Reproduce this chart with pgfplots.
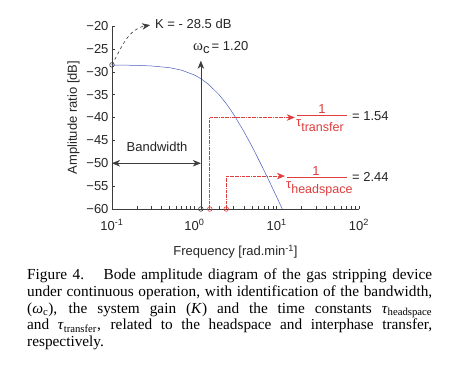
\documentclass[border=0pt]{standalone}
\usepackage{pgfplots}
\pgfplotsset{compat=1.18}
\usetikzlibrary{arrows.meta}
\usepackage{fontspec}
\setmainfont{Liberation Sans}
\newfontfamily\capfont{Liberation Serif}
\definecolor{myred}{RGB}{222,62,62}
\definecolor{myblue}{RGB}{72,92,192}
\definecolor{axgray}{RGB}{60,60,60}
\tikzset{mh/.tip={Stealth[length=8pt,width=6.5pt,inset=2.5pt]}}
\begin{document}
\begin{tikzpicture}[x=1pt,y=1pt]
\path[use as bounding box, fill=white] (0,0) rectangle (455,-371);
\begin{axis}[
 at={(112pt,-209pt)}, anchor=south west,
 scale only axis, width=247pt, height=183pt,
 xmode=log, xmin=0.1, xmax=100, ymin=-60, ymax=-20,
 axis lines=left, axis line style={-, axgray, line width=0.5pt},
 tick align=inside, major tick length=3pt, minor tick length=2.5pt,
 every tick/.style={axgray, line width=0.4pt},
 xtick={0.1,1,10,100},
 minor xtick={0.2,0.3,0.4,0.5,0.6,0.7,0.8,0.9,2,3,4,5,6,7,8,9,20,30,40,50,60,70,80,90},
 xticklabels={10\textsuperscript{-1},10\textsuperscript{0},10\textsuperscript{1},10\textsuperscript{2}},
 ytick={-60,-55,-50,-45,-40,-35,-30,-25,-20},
 yticklabels={−60,−55,−50,−45,−40,−35,−30,−25,−20},
 ticklabel style={font=\fontsize{13}{15}\selectfont, text=black!85},
 xticklabel style={yshift=-7pt},
 xlabel={Frequency [rad.min\textsuperscript{-1}]},
 ylabel={Amplitude ratio [dB]},
 xlabel style={yshift=-8pt},
 label style={font=\fontsize{13}{15}\selectfont, text=black!85},
 clip=false,
]
\addplot[myblue, line width=0.5pt] coordinates {
(0.1,-28.53) (0.2,-28.60) (0.3,-28.73) (0.5,-29.11) (0.7,-29.66)
(1.0,-30.70) (1.2,-31.50) (1.5,-32.79) (2.0,-35.02) (2.5,-37.22)
(3.0,-39.31) (4.0,-43.06) (5.0,-46.28) (6.0,-49.07) (7.0,-51.51)
(8.0,-53.67) (10.0,-57.35) (11.7,-60.0)
};
% K annotation
\draw[dashed, axgray, line width=0.6pt, -mh] (axis cs:0.1,-28.5) to[out=62,in=190] (axis cs:0.29,-19.8);
% omega_c arrow
\draw[axgray, line width=0.6pt, -mh] (axis cs:1.2,-60) -- (axis cs:1.2,-27.6);
% bandwidth arrow
\draw[axgray, line width=0.6pt, mh-mh] (axis cs:0.1,-50) -- (axis cs:1.2,-50);
% red dash-dot arrows
\draw[myred, densely dash dot, line width=0.6pt, -mh] (axis cs:1.54,-60) -- (axis cs:1.54,-40) -- (axis cs:16.6,-40);
\draw[myred, densely dash dot, line width=0.6pt, -mh] (axis cs:2.44,-60) -- (axis cs:2.44,-52.8) -- (axis cs:12.6,-52.8);
\addplot[only marks, mark=o, mark size=2.3pt, axgray, mark options={line width=0.6pt}] coordinates {(0.1,-28.5) (1.2,-60)};
\addplot[only marks, mark=o, mark size=2.3pt, myred, mark options={line width=0.6pt}] coordinates {(1.54,-60) (2.44,-60)};
\end{axis}
\begin{scope}[font=\fontsize{13}{15}\selectfont, text=black!85]
\node[anchor=base west, inner sep=0] at (155,-29) {K = - 28.5 dB};
\node[anchor=base west, inner sep=0] at (193,-51) {{\capfont\fontsize{15}{15}\selectfont ω}\raisebox{-2.5pt}{c}\,= 1.20};
\node at (157,-147) {Bandwidth};
% fraction 1
\node[myred] at (322,-109) {1};
\draw[myred, line width=0.7pt] (297,-115.5) -- (347,-115.5);
\node[myred, anchor=base west, inner sep=0] at (296,-127) {τ\raisebox{-5pt}{\fontsize{12.5}{14}\selectfont transfer}};
\node[anchor=west, inner sep=0] at (352,-116) {= 1.54};
% fraction 2
\node[myred] at (316,-171) {1};
\draw[myred, line width=0.7pt] (287,-177) -- (347,-177);
\node[myred, anchor=base west, inner sep=0] at (286,-189) {τ\raisebox{-5pt}{\fontsize{12.5}{14}\selectfont headspace}};
\node[anchor=west, inner sep=0] at (352,-177) {= 2.44};
\end{scope}
% caption
\node[anchor=north west, inner sep=0, text width=405pt, align=justify, font=\capfont\fontsize{15.3}{16.8}\selectfont] at (27,-268.5) {%
Figure 4.\hspace{0.6em} Bode amplitude diagram of the gas stripping device\linebreak[4]
under continuous operation, with identification of the bandwidth,\linebreak[4]
(\textit{ω}\textsubscript{c}), the system gain (\textit{K}) and the time constants \textit{τ}\textsubscript{headspace}\linebreak[4]
and \textit{τ}\textsubscript{transfer}, related to the headspace and interphase transfer,\linebreak[4]
respectively.};
\end{tikzpicture}
\end{document}
